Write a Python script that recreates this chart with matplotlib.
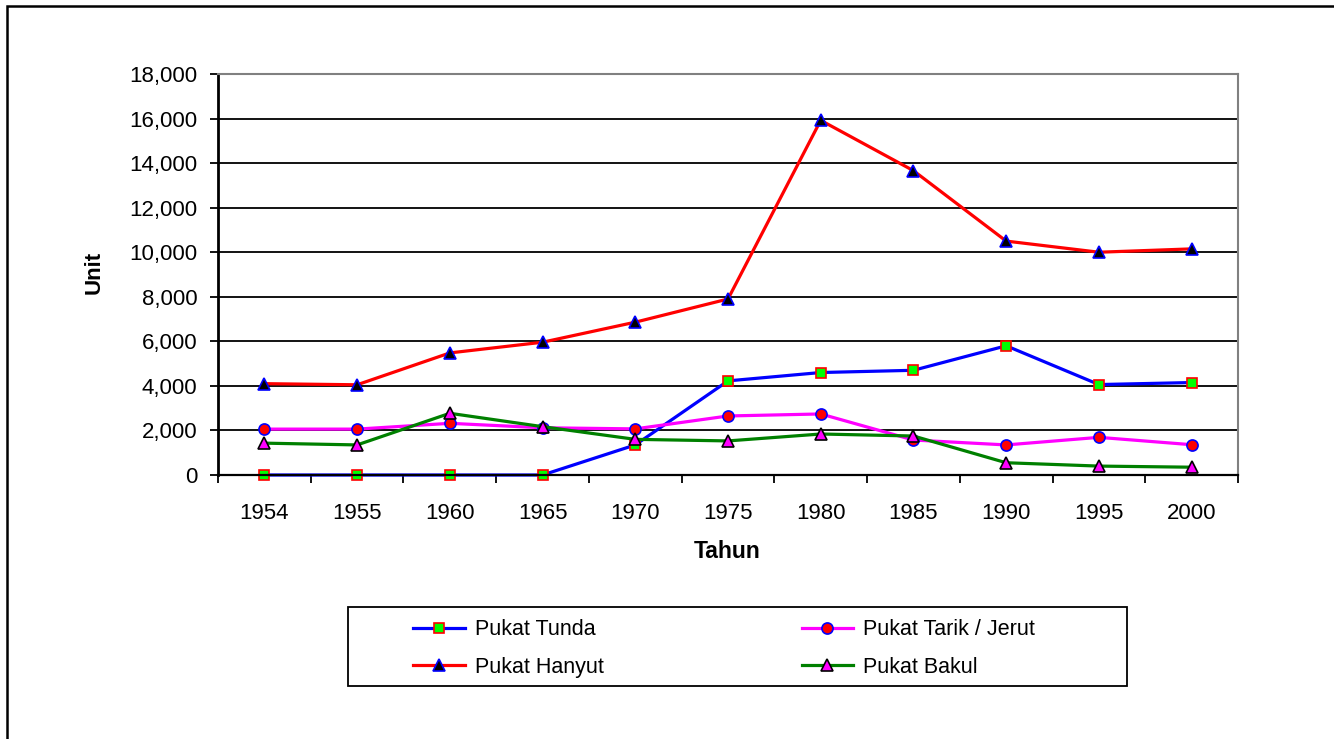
import numpy as np
import matplotlib
matplotlib.use("Agg")
import matplotlib.pyplot as plt
from matplotlib.patches import Rectangle
from matplotlib.ticker import FuncFormatter

plt.rcParams['font.family'] = ['Liberation Sans', 'DejaVu Sans']

# data
tahun = ['1954', '1955', '1960', '1965', '1970', '1975', '1980', '1985', '1990', '1995', '2000']
pukat_tunda = [0, 0, 0, 0, 1350, 4225, 4600, 4700, 5800, 4060, 4150]
pukat_tarik = [2060, 2060, 2320, 2120, 2070, 2650, 2740, 1570, 1350, 1690, 1360]
pukat_hanyut = [4100, 4050, 5480, 5960, 6860, 7900, 15920, 13660, 10500, 10000, 10150]
pukat_bakul = [1430, 1350, 2770, 2170, 1600, 1530, 1840, 1750, 550, 400, 350]

W, H = 1334, 739
fig = plt.figure(figsize=(W / 100, H / 100), dpi=100)

# outer chart border (only left/top visible in the reference)
fig.patches.append(Rectangle((7 / W, -1), 3, 1 - 6 / H + 1, transform=fig.transFigure,
                             fill=False, ec='black', lw=1.8))

ax = fig.add_axes([218 / W, 1 - 475 / H, (1238 - 218) / W, (475 - 74) / H])
x = np.arange(len(tahun))

lw = 2.3
h1, = ax.plot(x, pukat_tunda, color='#0000FF', lw=lw, marker='s', ms=7.5,
              mfc='#00FF00', mec='#FF0000', mew=1.2, label='Pukat Tunda', clip_on=False)
h2, = ax.plot(x, pukat_tarik, color='#FF00FF', lw=lw, marker='o', ms=8,
              mfc='#FF0000', mec='#0000FF', mew=1.2, label='Pukat Tarik / Jerut', clip_on=False)
h3, = ax.plot(x, pukat_hanyut, color='#FF0000', lw=lw, marker='^', ms=9,
              mfc='#000000', mec='#0000FF', mew=1.2, label='Pukat Hanyut', clip_on=False)
h4, = ax.plot(x, pukat_bakul, color='#008000', lw=lw, marker='^', ms=9,
              mfc='#FF00FF', mec='#000000', mew=1.2, label='Pukat Bakul', clip_on=False)

ax.set_xlim(-0.5, len(tahun) - 0.5)
ax.set_ylim(0, 18000)
ax.set_yticks(np.arange(0, 18001, 2000))
ax.yaxis.set_major_formatter(FuncFormatter(lambda v, p: f'{int(v):,}'))
ax.yaxis.grid(True, color='black', lw=1.3)
ax.set_axisbelow(True)

ax.set_xticks(np.arange(-0.5, len(tahun)), labels=[])
ax.set_xticks(x, minor=True, labels=tahun)
ax.tick_params(axis='x', which='major', length=6, width=1.3, color='black')
ax.tick_params(axis='x', which='minor', length=0, pad=20, labelsize=16)
ax.tick_params(axis='y', length=6, width=1.3, pad=9, labelsize=16)

for s in ['top', 'right']:
    ax.spines[s].set_color('#808080')
    ax.spines[s].set_linewidth(1.5)
ax.spines['left'].set_linewidth(2)
ax.spines['bottom'].set_linewidth(1.6)

fig.text(94 / W, 1 - 272 / H, 'Unit', rotation=90, ha='center', va='center',
         fontsize=16, fontweight='bold')
fig.text(727 / W, 1 - 551 / H, 'Tahun', ha='center', va='center',
         fontsize=16.5, fontweight='bold')

# legend box
fig.patches.append(Rectangle((348 / W, 1 - 686 / H), (1127 - 348) / W, (686 - 607) / H,
                             transform=fig.transFigure, fill=False, ec='black', lw=1.3))
fig.legend(handles=[h1, h3, h2, h4], ncol=2, loc='center', frameon=False,
           bbox_to_anchor=(724 / W, 1 - 648.5 / H), fontsize=15.5, numpoints=1,
           handlelength=2.4, handletextpad=0.45, columnspacing=9.2, labelspacing=0.78)

fig.savefig('out.png', dpi=100)
